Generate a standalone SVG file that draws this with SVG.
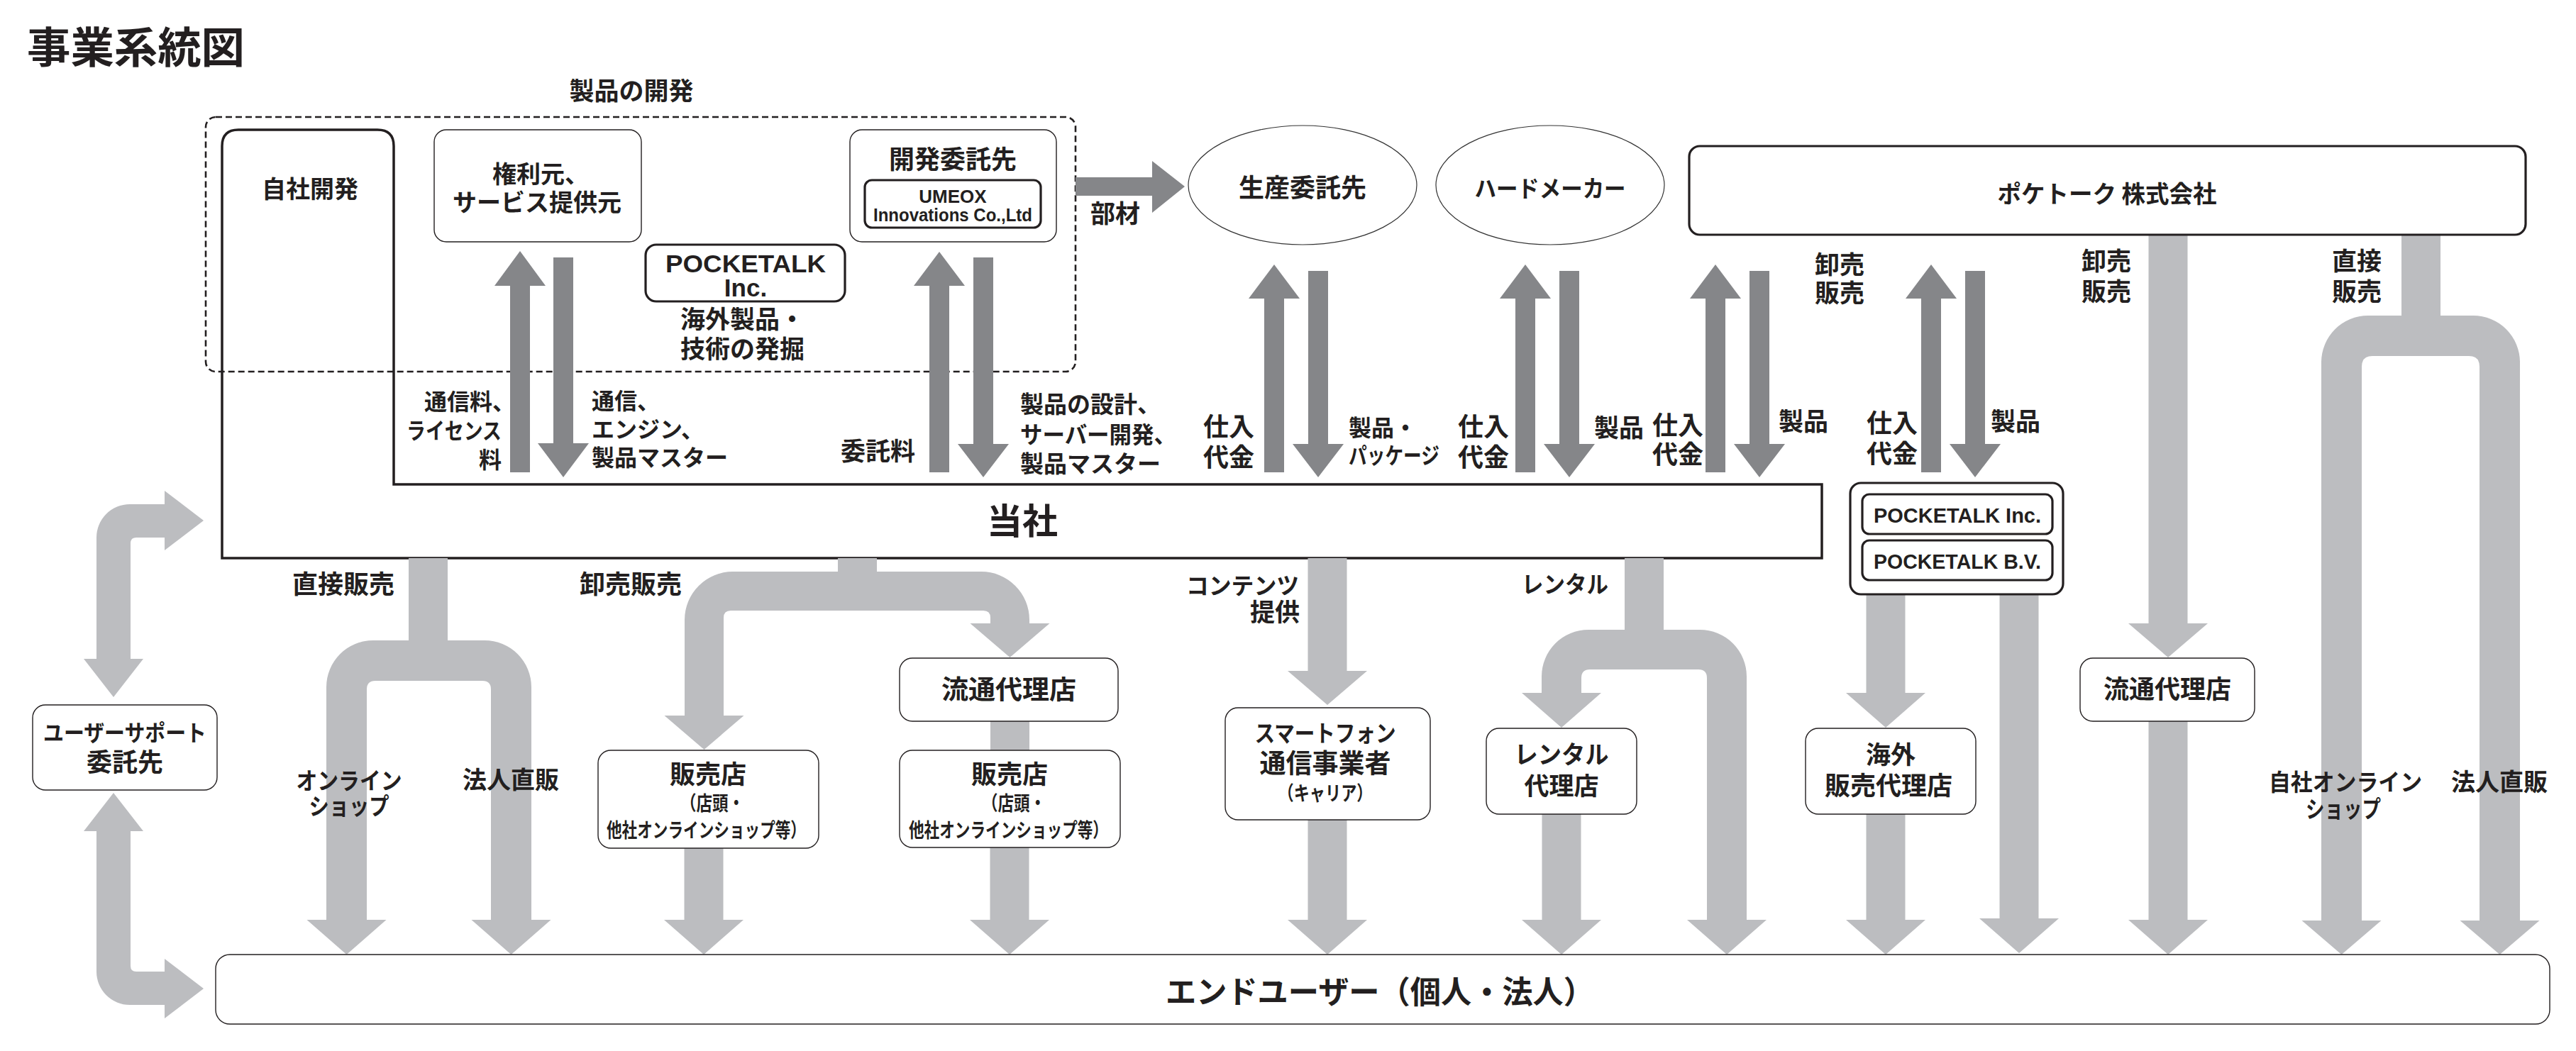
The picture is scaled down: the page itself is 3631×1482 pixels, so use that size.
<svg xmlns="http://www.w3.org/2000/svg" width="3631" height="1482" viewBox="0 0 3631 1482">
<style>
.t{font-family:"Noto Sans CJK JP","Noto Sans",sans-serif;font-weight:700;fill:#231f20}
.l{font-family:"Liberation Sans",Arial,sans-serif;font-weight:700;fill:#231f20}
.m{text-anchor:middle}
.thin{fill:#fff;stroke:#231f20;stroke-width:1.4}
.thick{fill:#fff;stroke:#231f20;stroke-width:3.2}
.ell{fill:#fff;stroke:#333;stroke-width:1.2}
.dk{fill:#858689}
.lt{fill:#bcbdc0}
</style>
<rect width="3631" height="1482" fill="#fff"/>
<text class="t" x="38" y="89" font-size="60" textLength="307" lengthAdjust="spacingAndGlyphs">事業系統図</text>

<g id="tosha">
<path d="M313,206 Q313,183 336,183 L532,183 Q555,183 555,206 L555,683 L2568,683 L2568,787 L313,787 Z" fill="#fff" stroke="#231f20" stroke-width="3.5"/>
<text class="t" x="437" y="279" font-size="34" text-anchor="middle">自社開発</text>
<text class="t" x="1441" y="753" font-size="50" text-anchor="middle">当社</text>
</g>

<g id="dev-group">
<rect x="290" y="165" width="1226" height="359" rx="14" fill="none" stroke="#231f20" stroke-width="2.6" stroke-dasharray="9 5"/>
<text class="t" x="890" y="141" font-size="35" text-anchor="middle">製品の開発</text>
</g>

<g id="connectors">
<path class="dk" d="M733,354 L769,403 L747,403 L747,666 L719,666 L719,403 L697,403 Z"/>
<path class="dk" d="M780,363 L808,363 L808,625 L830,625 L794,673 L758,625 L780,625 Z"/>
<path class="dk" d="M1324,355 L1360,403 L1338,403 L1338,666 L1310,666 L1310,403 L1288,403 Z"/>
<path class="dk" d="M1372,363 L1400,363 L1400,626 L1422,626 L1386,673 L1350,626 L1372,626 Z"/>
<path class="dk" d="M1796,373 L1832,421 L1810,421 L1810,666 L1782,666 L1782,421 L1760,421 Z"/>
<path class="dk" d="M1844,382 L1872,382 L1872,626 L1894,626 L1858,673 L1822,626 L1844,626 Z"/>
<path class="dk" d="M2150,373 L2186,421 L2164,421 L2164,666 L2136,666 L2136,421 L2114,421 Z"/>
<path class="dk" d="M2198,382 L2226,382 L2226,626 L2248,626 L2212,673 L2176,626 L2198,626 Z"/>
<path class="dk" d="M2418,373 L2454,421 L2432,421 L2432,666 L2404,666 L2404,421 L2382,421 Z"/>
<path class="dk" d="M2466,382 L2494,382 L2494,626 L2516,626 L2480,673 L2444,626 L2466,626 Z"/>
<path class="dk" d="M2722,373 L2758,421 L2736,421 L2736,666 L2708,666 L2708,421 L2686,421 Z"/>
<path class="dk" d="M2770,382 L2798,382 L2798,626 L2820,626 L2784,673 L2748,626 L2770,626 Z"/>
<path class="dk" d="M1516,250 L1624,250 L1624,227 L1670,263 L1624,300 L1624,276 L1516,276 Z"/>
<path class="lt" d="M287,734 L232,692 L232,711 L183,711 A47,47 0 0 0 136,758 L136,929 L118,929 L160,983 L202,929 L184,929 L184,766 Q184,758 192,758 L232,758 L232,776 Z"/>
<path class="lt" d="M160,1118 L118,1172 L136,1172 L136,1370 A47,47 0 0 0 183,1417 L232,1417 L232,1436 L287,1394 L232,1352 L232,1370 L192,1370 Q184,1370 184,1362 L184,1172 L202,1172 Z"/>
<path class="lt" d="M576,787 L576,903 L526,903 A66,66 0 0 0 460,969 L460,1297 L432.5,1297 L488.5,1346 L544.5,1297 L517,1297 L517,972 Q517,960 529,960 L680,960 Q692,960 692,972 L692,1297 L664.5,1297 L720.5,1346 L776.5,1297 L749,1297 L749,969 A66,66 0 0 0 683,903 L631,903 L631,787 Z"/>
<path class="lt" d="M1181,787 L1181,806 L1033,806 A68,68 0 0 0 965,874 L965,1009 L936.5,1009 L992.5,1057 L1048.5,1009 L1020,1009 L1020,871 Q1020,861 1030,861 L1386,861 Q1396,861 1396,871 L1396,879 L1367.5,879 L1423.5,927 L1479.5,879 L1451,879 L1451,874 A68,68 0 0 0 1383,806 L1236,806 L1236,787 Z"/>
<path class="lt" d="M2290,787 L2290,888 L2239,888 A66,66 0 0 0 2173,954 L2173,977 L2145,977 L2201,1026 L2257,977 L2229,977 L2229,956 Q2229,944 2241,944 L2394,944 Q2406,944 2406,956 L2406,1297 L2378,1297 L2434,1346 L2490,1297 L2462,1297 L2462,954 A66,66 0 0 0 2396,888 L2345,888 L2345,787 Z"/>
<path class="lt" d="M3385,331 L3385,445 L3338,445 A66,66 0 0 0 3272,511 L3272,1298 L3244.5,1298 L3300.5,1346 L3356.5,1298 L3329,1298 L3329,517 Q3329,502 3344,502 L3480,502 Q3495,502 3495,517 L3495,1298 L3467.5,1298 L3523.5,1346 L3579.5,1298 L3552,1298 L3552,511 A66,66 0 0 0 3486,445 L3440,445 L3440,331 Z"/>
<path class="lt" d="M1843.5,787 L1898.5,787 L1898.5,946 L1927,946 L1871,994 L1815,946 L1843.5,946 Z"/>
<path class="lt" d="M1843.5,1156 L1898.5,1156 L1898.5,1297 L1927,1297 L1871,1346 L1815,1297 L1843.5,1297 Z"/>
<path class="lt" d="M964.5,1196 L1019.5,1196 L1019.5,1297 L1048,1297 L992,1346 L936,1297 L964.5,1297 Z"/>
<path class="lt" d="M1395.5,1195 L1450.5,1195 L1450.5,1297 L1479,1297 L1423,1346 L1367,1297 L1395.5,1297 Z"/>
<rect class="lt" x="1396" y="1016" width="55" height="43"/>
<path class="lt" d="M2173.5,1148 L2228.5,1148 L2228.5,1297 L2257,1297 L2201,1346 L2145,1297 L2173.5,1297 Z"/>
<path class="lt" d="M2630.5,838 L2685.5,838 L2685.5,977 L2714,977 L2658,1026 L2602,977 L2630.5,977 Z"/>
<path class="lt" d="M2630.5,1148 L2685.5,1148 L2685.5,1297 L2714,1297 L2658,1346 L2602,1297 L2630.5,1297 Z"/>
<path class="lt" d="M2818.5,838 L2873.5,838 L2873.5,1295 L2902,1295 L2846,1344 L2790,1295 L2818.5,1295 Z"/>
<path class="lt" d="M3028.5,331 L3083.5,331 L3083.5,879 L3112,879 L3056,927 L3000,879 L3028.5,879 Z"/>
<path class="lt" d="M3028.5,1017 L3083.5,1017 L3083.5,1297 L3112,1297 L3056,1346 L3000,1297 L3028.5,1297 Z"/>
</g>

<g id="n-kenri">
<rect class="thin" x="612" y="183" width="292" height="158" rx="17"/>
<text class="t" x="694" y="258" font-size="34">権利元、</text>
<text class="t m" x="757" y="298" font-size="34">サービス提供元</text>
</g>
<g id="n-kaihatsu">
<rect class="thin" x="1198" y="183" width="291" height="158" rx="17"/>
<text class="t m" x="1343" y="238" font-size="36">開発委託先</text>
<rect class="thick" x="1219" y="254" width="248" height="67" rx="10"/>
<text class="l m" x="1343" y="286" font-size="26">UMEOX</text>
<text class="l m" x="1343" y="312" font-size="26" textLength="224" lengthAdjust="spacingAndGlyphs">Innovations Co.,Ltd</text>
</g>
<g id="n-pocketalk-inc">
<rect class="thick" x="910" y="345" width="281" height="80" rx="15"/>
<text class="l m" x="1051" y="384" font-size="35" textLength="226" lengthAdjust="spacingAndGlyphs">POCKETALK</text>
<text class="l m" x="1051" y="418" font-size="35">Inc.</text>
<text class="t" x="959" y="463" font-size="35">海外製品・</text>
<text class="t" x="959" y="505" font-size="35">技術の発掘</text>
</g>
<g id="n-seisan">
<ellipse class="ell" cx="1836" cy="261" rx="161" ry="84"/>
<text class="t m" x="1836" y="278" font-size="36">生産委託先</text>
</g>
<g id="n-hard">
<ellipse class="ell" cx="2185" cy="261" rx="161" ry="84"/>
<text class="t m" x="2185" y="278" font-size="33" textLength="213" lengthAdjust="spacingAndGlyphs">ハードメーカー</text>
</g>
<g id="n-pocketalk-kk">
<rect class="thick" x="2381" y="206" width="1179" height="125" rx="15"/>
<text class="t m" x="2970" y="286" font-size="34" textLength="309" lengthAdjust="spacingAndGlyphs">ポケトーク 株式会社</text>
</g>
<g id="n-subsidiaries">
<rect class="thick" x="2608" y="681" width="300" height="157" rx="15"/>
<rect class="thick" x="2625" y="697" width="268" height="56" rx="10"/>
<rect class="thick" x="2625" y="762" width="268" height="56" rx="10"/>
<text class="l m" x="2759" y="737" font-size="29" textLength="236" lengthAdjust="spacingAndGlyphs">POCKETALK Inc.</text>
<text class="l m" x="2759" y="802" font-size="29" textLength="236" lengthAdjust="spacingAndGlyphs">POCKETALK B.V.</text>
</g>
<g id="n-support">
<rect class="thin" x="46" y="994" width="260" height="120" rx="18"/>
<text class="t m" x="176" y="1045" font-size="32" textLength="230" lengthAdjust="spacingAndGlyphs">ユーザーサポート</text>
<text class="t m" x="176" y="1088" font-size="36">委託先</text>
</g>
<g id="n-shop1">
<rect class="thin" x="843" y="1058" width="311" height="138" rx="18"/>
<text class="t m" x="998" y="1105" font-size="36">販売店</text>
<text class="t" x="959" y="1143" font-size="28" textLength="90" lengthAdjust="spacingAndGlyphs">（店頭・</text>
<text class="t" x="855" y="1181" font-size="28" textLength="281" lengthAdjust="spacingAndGlyphs">他社オンラインショップ等）</text>
</g>
<g id="n-ryutsu1">
<rect class="thin" x="1268" y="928" width="308" height="89" rx="18"/>
<text class="t m" x="1422" y="986" font-size="37" textLength="190" lengthAdjust="spacingAndGlyphs">流通代理店</text>
</g>
<g id="n-shop2">
<rect class="thin" x="1268" y="1058" width="311" height="137" rx="18"/>
<text class="t m" x="1423" y="1105" font-size="36">販売店</text>
<text class="t" x="1384" y="1143" font-size="28" textLength="90" lengthAdjust="spacingAndGlyphs">（店頭・</text>
<text class="t" x="1281" y="1181" font-size="28" textLength="281" lengthAdjust="spacingAndGlyphs">他社オンラインショップ等）</text>
</g>
<g id="n-carrier">
<rect class="thin" x="1727" y="998" width="289" height="158" rx="18"/>
<text class="t m" x="1868" y="1046" font-size="33" textLength="199" lengthAdjust="spacingAndGlyphs">スマートフォン</text>
<text class="t m" x="1868" y="1090" font-size="37">通信事業者</text>
<text class="t m" x="1868" y="1129" font-size="28" textLength="133" lengthAdjust="spacingAndGlyphs">（キャリア）</text>
</g>
<g id="n-rental">
<rect class="thin" x="2095" y="1027" width="212" height="121" rx="18"/>
<text class="t m" x="2201" y="1077" font-size="35" textLength="133" lengthAdjust="spacingAndGlyphs">レンタル</text>
<text class="t m" x="2201" y="1121" font-size="35">代理店</text>
</g>
<g id="n-overseas">
<rect class="thin" x="2545" y="1027" width="240" height="121" rx="18"/>
<text class="t m" x="2665" y="1077" font-size="35">海外</text>
<text class="t m" x="2662" y="1121" font-size="36">販売代理店</text>
</g>
<g id="n-ryutsu2">
<rect class="thin" x="2932" y="928" width="246" height="89" rx="18"/>
<text class="t m" x="3055" y="985" font-size="36">流通代理店</text>
</g>
<g id="n-enduser">
<rect class="thin" x="304" y="1346" width="3290" height="98" rx="20"/>
<text class="t" x="1643" y="1415" font-size="44" textLength="604" lengthAdjust="spacingAndGlyphs">エンドユーザー（個人・法人）</text>
</g>

<g id="connector-labels">
<text class="t" x="598" y="578" font-size="32">通信料、</text>
<text class="t" x="573" y="619" font-size="32" textLength="134" lengthAdjust="spacingAndGlyphs">ライセンス</text>
<text class="t" x="675" y="660" font-size="32">料</text>
<text class="t" x="834" y="577" font-size="32">通信、</text>
<text class="t" x="834" y="617" font-size="32">エンジン、</text>
<text class="t" x="834" y="657" font-size="32">製品マスター</text>
<text class="t" x="1185" y="649" font-size="35">委託料</text>
<text class="t" x="1438" y="582" font-size="33">製品の設計、</text>
<text class="t" x="1438" y="625" font-size="33" textLength="220" lengthAdjust="spacingAndGlyphs">サーバー開発、</text>
<text class="t" x="1438" y="666" font-size="33">製品マスター</text>
<text class="t" x="1537" y="314" font-size="35">部材</text>
<text class="t" x="1696" y="615" font-size="36">仕入</text>
<text class="t" x="1696" y="658" font-size="36">代金</text>
<text class="t" x="1901" y="615" font-size="32">製品・</text>
<text class="t" x="1901" y="654" font-size="32" textLength="128" lengthAdjust="spacingAndGlyphs">パッケージ</text>
<text class="t" x="2055" y="615" font-size="36">仕入</text>
<text class="t" x="2055" y="658" font-size="36">代金</text>
<text class="t" x="2247" y="616" font-size="35">製品</text>
<text class="t" x="2329" y="613" font-size="36">仕入</text>
<text class="t" x="2329" y="654" font-size="36">代金</text>
<text class="t" x="2507" y="607" font-size="35">製品</text>
<text class="t" x="2558" y="386" font-size="35">卸売</text>
<text class="t" x="2558" y="426" font-size="35">販売</text>
<text class="t" x="2631" y="610" font-size="36">仕入</text>
<text class="t" x="2631" y="653" font-size="36">代金</text>
<text class="t" x="2806" y="607" font-size="35">製品</text>
<text class="t" x="2934" y="381" font-size="35">卸売</text>
<text class="t" x="2934" y="424" font-size="35">販売</text>
<text class="t" x="3287" y="381" font-size="35">直接</text>
<text class="t" x="3287" y="424" font-size="35">販売</text>
<text class="t" x="412" y="837" font-size="36">直接販売</text>
<text class="t" x="817" y="837" font-size="36">卸売販売</text>
<text class="t" x="1672" y="838" font-size="33" textLength="159" lengthAdjust="spacingAndGlyphs">コンテンツ</text>
<text class="t" x="1762" y="876" font-size="35">提供</text>
<text class="t" x="2145" y="836" font-size="33" textLength="122" lengthAdjust="spacingAndGlyphs">レンタル</text>
<text class="t m" x="492" y="1113" font-size="33" textLength="149" lengthAdjust="spacingAndGlyphs">オンライン</text>
<text class="t m" x="492" y="1149" font-size="33" textLength="113" lengthAdjust="spacingAndGlyphs">ショップ</text>
<text class="t" x="652" y="1112" font-size="34">法人直販</text>
<text class="t m" x="3306" y="1115" font-size="33" textLength="216" lengthAdjust="spacingAndGlyphs">自社オンライン</text>
<text class="t m" x="3303" y="1153" font-size="33" textLength="106" lengthAdjust="spacingAndGlyphs">ショップ</text>
<text class="t" x="3455" y="1115" font-size="34">法人直販</text>
</g>
</svg>
